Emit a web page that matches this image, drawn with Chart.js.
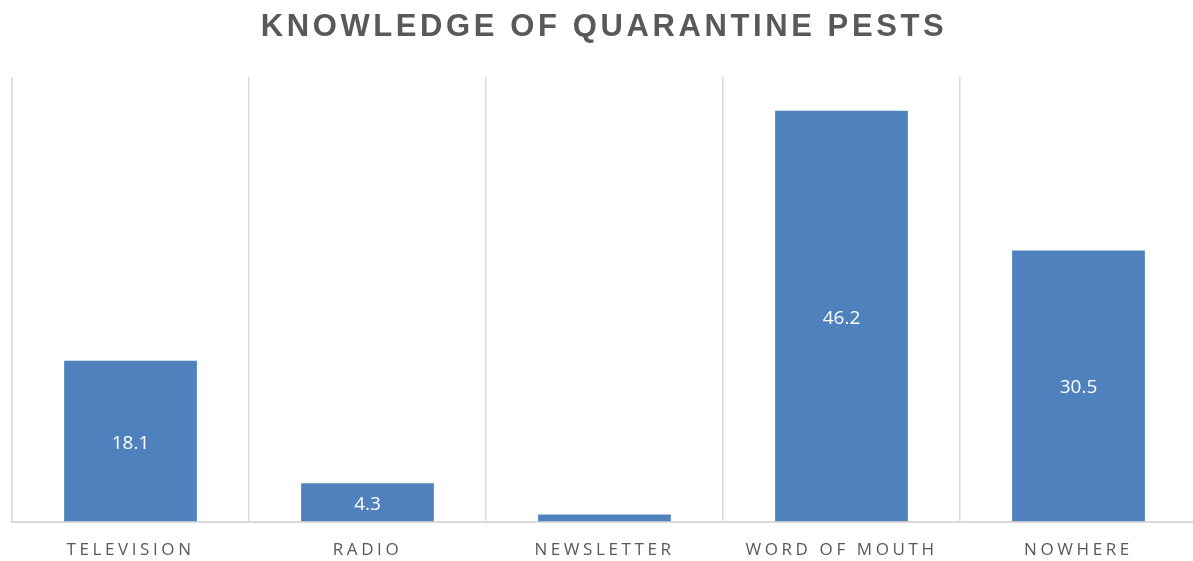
<!DOCTYPE html>
<html>
<head>
<meta charset="utf-8">
<script src="https://cdn.jsdelivr.net/npm/chart.js@4.4.0/dist/chart.umd.min.js"></script>
<style>
  html, body { margin: 0; padding: 0; background: #fff; overflow: hidden; }
  #wrap { width: 1197px; height: 580px; }
</style>
</head>
<body>
<div id="wrap"><canvas id="c"></canvas></div>
<script>
const titleText = 'KNOWLEDGE OF QUARANTINE PESTS';
const categories = ['TELEVISION', 'RADIO', 'NEWSLETTER', 'WORD OF MOUTH', 'NOWHERE'];
const values = [18.1, 4.3, 0.8, 46.2, 30.5];
const labels = ['18.1', '4.3', '0.8', '46.2', '30.5'];

// letter spacing for tick labels, title drawn by hand so it can have its own spacing
const spacing = {
  id: 'spacing',
  beforeDraw(chart) { chart.ctx.letterSpacing = '3.6px'; },
  afterDraw(chart) {
    const ctx = chart.ctx;
    ctx.save();
    ctx.letterSpacing = '3.6px';
    ctx.font = 'bold 31px "Liberation Sans", Arial, sans-serif';
    ctx.fillStyle = '#595959';
    ctx.textAlign = 'center';
    ctx.textBaseline = 'middle';
    ctx.fillText(titleText, 604, 27);
    ctx.restore();
    ctx.letterSpacing = '0px';
  }
};

// value labels in the middle of each bar, only if they fit
const barLabels = {
  id: 'barLabels',
  afterDatasetsDraw(chart) {
    const ctx = chart.ctx;
    const meta = chart.getDatasetMeta(0);
    ctx.save();
    ctx.letterSpacing = '0px';
    ctx.font = '19px "Open Sans", "Noto Sans", sans-serif';
    ctx.fillStyle = '#ffffff';
    ctx.textAlign = 'center';
    ctx.textBaseline = 'middle';
    meta.data.forEach((bar, i) => {
      const h = bar.base - bar.y;
      if (h < 20) return;
      ctx.fillText(labels[i], bar.x, (bar.y + bar.base) / 2 + 2);
    });
    ctx.restore();
  }
};

new Chart(document.getElementById('c'), {
  type: 'bar',
  data: {
    labels: categories,
    datasets: [{
      data: values,
      backgroundColor: '#4F81BD',
      categoryPercentage: 0.56,
      barPercentage: 1.0
    }]
  },
  options: {
    responsive: true,
    maintainAspectRatio: false,
    animation: false,
    layout: { padding: { top: 77, left: 12, right: 0, bottom: 2 } },
    plugins: { legend: { display: false }, tooltip: { enabled: false } },
    scales: {
      x: {
        offset: true,
        grid: { offset: true, color: '#d9d9d9', lineWidth: 1.5, drawTicks: false },
        border: { color: '#d9d9d9', width: 2 },
        ticks: {
          color: '#595959',
          padding: 18,
          font: { family: '"Open Sans", "Noto Sans", sans-serif', size: 17 }
        }
      },
      y: {
        display: false,
        min: 0,
        max: 50
      }
    }
  },
  plugins: [spacing, barLabels]
});
</script>
</body>
</html>
